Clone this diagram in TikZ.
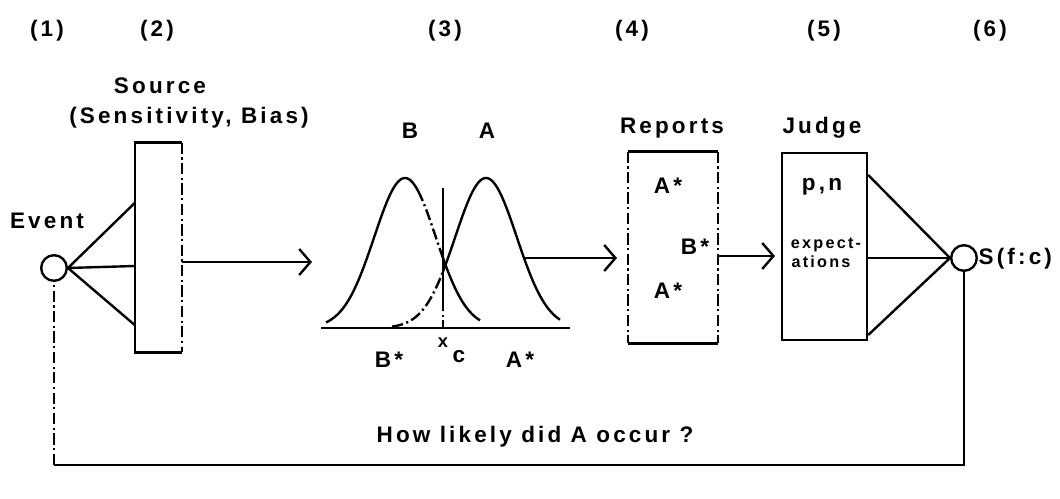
\documentclass[tikz,border=0pt]{standalone}
\usepackage{fontspec}
\setsansfont{Liberation Sans}[LetterSpace=14]
\usetikzlibrary{arrows.meta, positioning, calc}

\tikzset{
  lbl/.style={font=\sffamily\bfseries\fontsize{16}{18}\selectfont, inner sep=1pt},
  tiny/.style={font=\sffamily\bfseries\fontsize{11.5}{13}\selectfont, inner sep=0pt},
  flow/.style={-{Straight Barb[length=2.8mm,width=6.5mm]}, line width=1.7pt},
  stroke/.style={line width=1.7pt},
  dashdot/.style={line width=1.7pt, dash pattern=on 8pt off 2.5pt on 1.5pt off 2.5pt},
  blank/.style={rectangle, inner sep=0pt, minimum width=#1},
  dot/.style={circle, draw, line width=1.7pt, inner sep=0pt, minimum size=0.64cm}
}

\begin{document}
\begin{tikzpicture}[x=0.025cm, y=-0.025cm]
  \useasboundingbox (0,0) rectangle (1060,499);
  % stage numbers
  \foreach \name/\x/\txt in {n1/47/(1), n2/157/(2), n3/445/(3), n4/632/(4), n5/824/(5), n6/990/(6)}
    \node[lbl] (\name) at (\x,31) {\txt};

  % (1) event
  \node[dot] (ev) at (54,268) {};
  \node[lbl] (evlbl) at (47,221) {Event};

  % (2) source
  \node[blank=1.175cm, minimum height=5.225cm] (src) at (158.5,247.5) {};
  \draw[stroke] (src.north east) -- (src.north west) -- (src.south west) -- (src.south east);
  \draw[dashdot] (src.north east) -- (src.south east);
  \node[lbl] (srclbl) at (160,86) {Source};
  \node[lbl] (srcsub) at (189,118) {(Sensitivity, Bias)};
  \foreach \y in {203,266,325}
    \draw[stroke] (ev.east) -- (src.west |- 0,\y);
  \coordinate (tip1) at (312,262);
  \draw[flow] (src.east |- tip1) -- (tip1);

  % (3) distributions
  \coordinate (bl) at (321,328);
  \coordinate (br) at (570,328);
  \draw[stroke] (bl) -- (br);
  \coordinate (ctop) at (443,188);
  \draw[stroke] (ctop) -- (443,300);
  \draw[dashdot] (443,300) -- (bl -| ctop);
  % B
  \draw[stroke] plot[domain=326:418, samples=50] (\x, {328-150*exp(-(\x-405)^2/1894)});
  \draw[dashdot] plot[domain=418:443, samples=20] (\x, {328-150*exp(-(\x-405)^2/1894)});
  \draw[stroke] plot[domain=443:480, samples=20] (\x, {328-150*exp(-(\x-405)^2/1894)});
  % A
  \draw[dashdot] plot[domain=392:443, samples=30] (\x, {328-150*exp(-(\x-486)^2/1894)});
  \draw[stroke] plot[domain=443:560, samples=60] (\x, {328-150*exp(-(\x-486)^2/1894)});
  \node[lbl] (lB) at (410,131) {B};
  \node[lbl] (lA) at (487,131) {A};
  \node[lbl] (bstar) at (389,360) {B*};
  \node[lbl] (xmark) at (443,343) {\fontsize{13}{14}\selectfont x};
  \node[lbl] (cmark) at (459,357) {c};
  \node[lbl] (astar) at (520,360) {A*};
  \coordinate (aside) at (524,258);
  \coordinate (tip2) at (617,258);
  \draw[flow] (aside) -- (tip2);

  % (4) reports
  \node[blank=2.25cm, minimum height=4.775cm] (rep) at (673,247.5) {};
  \draw[stroke] (rep.north west) -- (rep.north east);
  \draw[stroke] (rep.south west) -- (rep.south east);
  \draw[dashdot] (rep.north west) -- (rep.south west);
  \draw[dashdot] (rep.north east) -- (rep.south east);
  \node[lbl] (replbl) at (672,128) {Reports};
  \node[lbl] (ra1) at (668,186) {A*};
  \node[lbl] (rb) at (695,247) {B*};
  \node[lbl] (ra2) at (668,291) {A*};
  \coordinate (tip3) at (775,256);
  \draw[flow] (rep.east |- tip3) -- (tip3);

  % (5) judge
  \node[blank=2.125cm, minimum height=4.675cm, draw, line width=1.7pt] (jdg) at (824.5,246.5) {};
  \node[lbl] (jdglbl) at (822,128) {Judge};
  \node[lbl] (pn) at (822,187) {p,n};
  \node[tiny] (exp1) at (826,245) {expect-};
  \node[tiny] (exp2) at (821,262) {ations};

  % (6) judgement
  \node[dot] (out) at (964,258) {};
  \node[lbl, anchor=west] (outlbl) at (977,259) {S(f:c)};
  \foreach \y in {175,258,335}
    \draw[stroke] (jdg.east |- 0,\y) -- (out.west);

  % feedback
  \coordinate (fbR) at (964,465);
  \coordinate (fbL) at (54,465);
  \draw[stroke] (out.south) -- (fbR) -- (fbL);
  \draw[dashdot] (fbL) -- (ev.south);
  \node[lbl] (ask) at (535,437) {How likely did A occur ?};
\end{tikzpicture}
\end{document}
